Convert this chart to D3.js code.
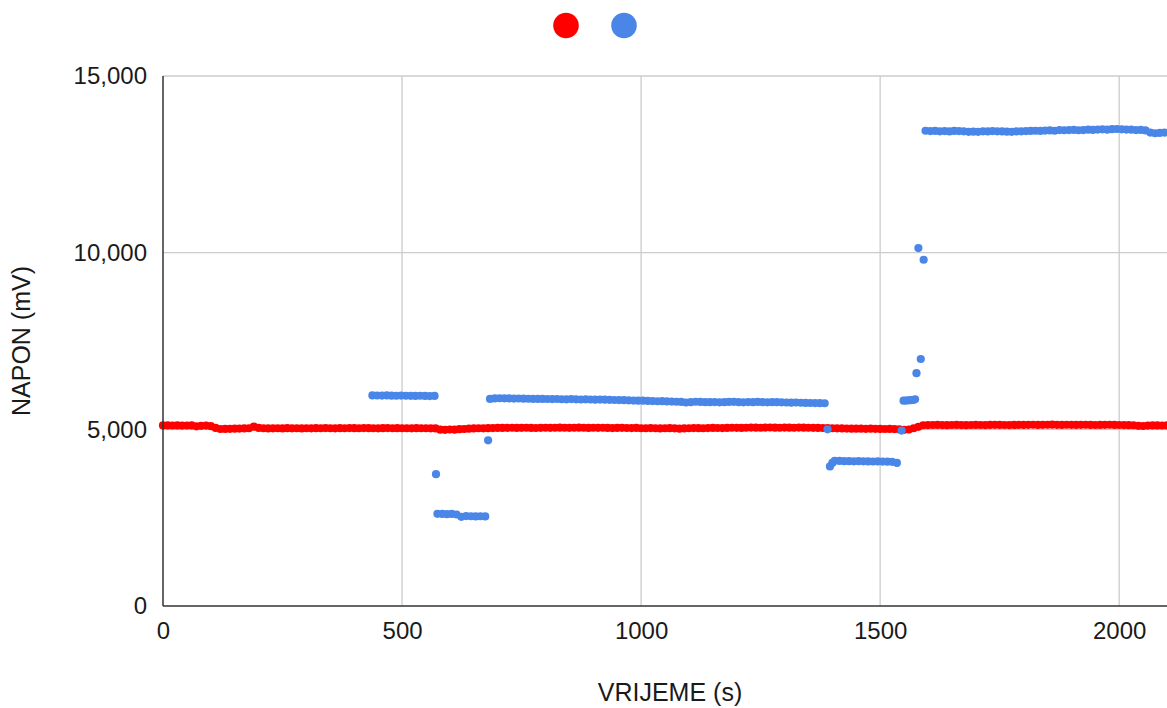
<!DOCTYPE html>
<html>
<head>
<meta charset="utf-8">
<script src="https://cdn.jsdelivr.net/npm/d3@7"></script>
<style>
  html, body { margin: 0; padding: 0; background: #fff; overflow: hidden; }
  svg { display: block; font-family: "Liberation Sans", Arial, sans-serif; }
</style>
</head>
<body>
<svg id="chart" width="1167" height="708"></svg>
<script>
// ---- data ----
const xTicks = [0, 500, 1000, 1500, 2000];
const yTicks = [0, 5000, 10000, 15000];
const seriesNames = ["", ""];

// red series: sampled every 10 s from 0 to 2100
const redStart = 0;
const redStep = 10;
const redValues = [
  5110,5112,5108,5110,5105,5108,5112,5085,5100,5106,5090,
  5040,5010,5012,5015,5020,5022,5025,5030,5075,5040,
  5030,5025,5028,5030,5025,5032,5028,5030,5025,5030,
  5028,5032,5030,5035,5030,5028,5032,5030,5035,5032,
  5030,5035,5032,5030,5028,5032,5035,5030,5032,5030,
  5030,5028,5032,5030,5030,5028,5025,4990,4985,4995,
  4990,5005,5010,5020,5025,5030,5028,5032,5035,5040,
  5040,5042,5045,5040,5042,5045,5040,5038,5042,5045,
  5042,5045,5048,5045,5042,5045,5048,5045,5040,5045,
  5042,5045,5040,5035,5040,5042,5038,5035,5040,5030,
  5030,5035,5030,5025,5030,5032,5028,5020,5025,5030,
  5035,5032,5030,5035,5040,5038,5035,5040,5045,5042,
  5040,5045,5050,5048,5045,5050,5052,5048,5045,5050,
  5048,5045,5050,5048,5045,5042,5040,5038,5035,5030,
  5028,5025,5022,5020,5018,5020,5015,5018,5015,5012,
  5010,5012,5008,5000,4985,4995,5030,5070,5115,5120,
  5122,5125,5120,5118,5122,5125,5120,5118,5122,5125,
  5122,5120,5125,5128,5125,5122,5120,5125,5128,5125,
  5128,5130,5125,5128,5130,5132,5128,5125,5130,5128,
  5125,5128,5130,5125,5122,5125,5128,5130,5125,5122,
  5120,5118,5115,5100,5095,5105,5110,5112,5108,5110
];

// blue series: explicit times and values
const blueTimes = [
  438,448,458,468,478,488,498,508,518,528,538,548,558,568,
  571,
  574,584,594,604,614,624,634,644,654,664,674,
  680,
  684,694,704,714,724,734,744,754,764,774,
  784,794,804,814,824,834,844,854,864,874,
  884,894,904,914,924,934,944,954,964,974,
  984,994,1004,1014,1024,1034,1044,1054,1064,1074,
  1084,1094,1104,1114,1124,1134,1144,1154,1164,1174,
  1184,1194,1204,1214,1224,1234,1244,1254,1264,1274,
  1284,1294,1304,1314,1324,1334,1344,1354,1364,1374,1384,
  1390,
  1395,1400,1405,1415,1425,1435,1445,1455,1465,1475,1485,1495,1505,1515,1525,1535,
  1545,
  1549,1554,1559,1564,1569,1573,
  1576,1580,1585,1591,
  1595,1605,1615,1625,1635,1645,1655,1665,1675,1685,
  1695,1705,1715,1725,1735,1745,1755,1765,1775,1785,
  1795,1805,1815,1825,1835,1845,1855,1865,1875,1885,
  1895,1905,1915,1925,1935,1945,1955,1965,1975,1985,
  1995,2005,2015,2025,2035,2045,2055,2065,2075,2085,2095
];
const blueValues = [
  5960,5958,5955,5960,5952,5950,5955,5950,5948,5945,5950,5945,5940,5945,
  3730,
  2610,2605,2600,2605,2590,2525,2545,2540,2535,2540,2535,
  4690,
  5860,5875,5880,5878,5875,5870,5872,5868,5865,5862,
  5860,5862,5858,5855,5858,5852,5850,5855,5848,5845,
  5848,5845,5840,5842,5838,5835,5830,5828,5825,5820,
  5815,5810,5812,5805,5800,5795,5798,5790,5785,5780,
  5775,5760,5770,5780,5775,5770,5768,5772,5765,5770,
  5775,5778,5770,5765,5772,5768,5775,5770,5765,5768,
  5770,5765,5760,5755,5760,5752,5748,5745,5742,5740,5738,
  5000,
  3950,4050,4110,4105,4100,4100,4095,4098,4095,4092,4090,4092,4088,4085,4080,4050,
  4965,
  5810,5815,5820,5825,5830,5850,
  6590,10130,6990,9800,
  13450,13440,13445,13435,13440,13430,13445,13440,13435,13420,
  13425,13420,13435,13430,13440,13435,13430,13425,13420,13430,
  13435,13440,13445,13450,13445,13455,13460,13450,13470,13465,
  13470,13475,13465,13470,13480,13475,13485,13490,13480,13495,
  13500,13490,13485,13480,13470,13475,13460,13400,13380,13390,13400
];

// ---- drawing ----
const svg = d3.select("#chart");
const W = 1167, H = 708;

const x = d3.scaleLinear().domain([0, 2100]).range([163, 1167]);
const y = d3.scaleLinear().domain([0, 15000]).range([606, 76]);

const redData = redValues.map((v, i) => ({ t: redStart + i * redStep, v }));
const blueData = blueTimes.map((t, i) => ({ t, v: blueValues[i] }));

// gridlines
const grid = svg.append("g");
grid.selectAll(".vg").data(xTicks.filter(d => d > 0)).join("line")
  .attr("x1", d => x(d)).attr("x2", d => x(d))
  .attr("y1", y(15000)).attr("y2", y(0))
  .attr("stroke", "#cccccc").attr("stroke-width", 1.3);
grid.selectAll(".hg").data(yTicks.filter(d => d > 0)).join("line")
  .attr("x1", x(0)).attr("x2", W)
  .attr("y1", d => y(d)).attr("y2", d => y(d))
  .attr("stroke", "#cccccc").attr("stroke-width", 1.3);

// axes
const xAxis = d3.axisBottom(x).tickValues(xTicks).tickSize(0).tickPadding(17).tickFormat(d3.format("d"));
const yAxis = d3.axisLeft(y).tickValues(yTicks).tickSize(0).tickPadding(16).tickFormat(d3.format(","));

const gx = svg.append("g").attr("transform", `translate(0,${y(0)})`).call(xAxis);
gx.select(".domain").remove();
gx.selectAll("text").attr("font-size", 24).attr("fill", "#1a1a1a")
  .attr("font-family", "Liberation Sans, Arial, sans-serif").attr("dy", "0.68em");

const gy = svg.append("g").attr("transform", `translate(${x(0)},0)`).call(yAxis);
gy.select(".domain").remove();
gy.selectAll("text").attr("font-size", 24).attr("fill", "#1a1a1a")
  .attr("font-family", "Liberation Sans, Arial, sans-serif");

// data points
const plot = svg.append("g");
plot.selectAll(".red").data(redData).join("circle")
  .attr("cx", d => x(d.t)).attr("cy", d => y(d.v)).attr("r", 4.1)
  .attr("fill", "#ff0000");
plot.selectAll(".blue").data(blueData).join("circle")
  .attr("cx", d => x(d.t)).attr("cy", d => y(d.v)).attr("r", 4.1)
  .attr("fill", "#4a86e8");

// axis lines (dark)
svg.append("line").attr("x1", x(0)).attr("x2", x(0)).attr("y1", y(15000)).attr("y2", y(0))
  .attr("stroke", "#333").attr("stroke-width", 1.5);
svg.append("line").attr("x1", x(0)).attr("x2", W).attr("y1", y(0)).attr("y2", y(0))
  .attr("stroke", "#333").attr("stroke-width", 1.5);

// axis titles
svg.append("text").attr("x", 670).attr("y", 701)
  .attr("text-anchor", "middle").attr("font-size", 25).attr("fill", "#1a1a1a")
  .text("VRIJEME (s)");
svg.append("text").attr("transform", "translate(30,341) rotate(-90)")
  .attr("text-anchor", "middle").attr("font-size", 25).attr("fill", "#1a1a1a")
  .text("NAPON (mV)");

// legend (markers only)
const legendColors = ["#ff0000", "#4a86e8"];
const legendX = d3.scalePoint().domain([0, 1]).range([566, 624]);
svg.selectAll(".leg").data(seriesNames.map((n, i) => ({ n, i }))).join("circle")
  .attr("cx", d => legendX(d.i)).attr("cy", 25.5).attr("r", 12.8)
  .attr("fill", d => legendColors[d.i]);
</script>
</body>
</html>
